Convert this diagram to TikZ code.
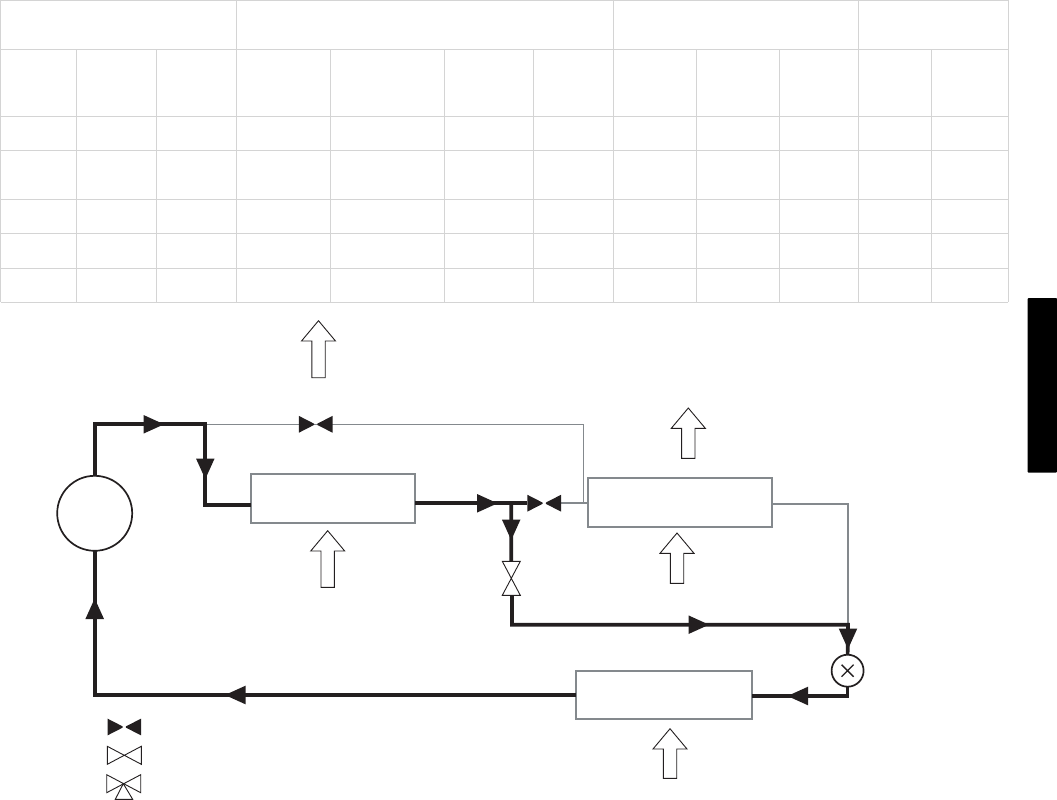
\documentclass[tikz,border=0pt]{standalone}
\definecolor{ink}{HTML}{231F20}
\definecolor{pipegray}{HTML}{84898D}
\definecolor{rulegray}{HTML}{D4D4D4}
\tikzset{
  pipe/.style={draw=ink,line width=3.7pt},
  thinpipe/.style={draw=pipegray,line width=1.4pt},
  unit/.style={draw=pipegray,line width=1.8pt,fill=white,inner sep=0pt,outer sep=0pt},
  round unit/.style={circle,draw=ink,line width=1.7pt,fill=white,inner sep=0pt,outer sep=0pt},
  grid rule/.style={draw=rulegray,line width=0.8pt},
  outline/.style={draw=ink,line width=0.9pt,fill=white,line join=miter},
  head/.pic={\fill[ink] (0.5,0.7) -- (0.5,-0.7) -- (-18.5,-9.3) -- (-18.5,9.3) -- cycle;},
  shut valve/.pic={\fill[ink] (-1.6,0.6) -- (-1.6,-0.6) -- (-16.8,-8.4) -- (-16.8,8.4) -- cycle;
                   \fill[ink] (1.6,0.6) -- (1.6,-0.6) -- (16.8,-8.4) -- (16.8,8.4) -- cycle;},
  open valve/.pic={\draw[outline] (0,0) -- (-17,9) -- (-17,-9) -- cycle;
                   \draw[outline] (0,0) -- (17,9) -- (17,-9) -- cycle;}
}
\newcommand{\airarrow}[4]{% tip x, tip y, bottom y, head base y
  \draw[outline] (#1,#2) -- (#1+17,#4) -- (#1+6.7,#4) -- (#1+6.7,#3)
     -- (#1-6.7,#3) -- (#1-6.7,#4) -- (#1-17,#4) -- cycle;}
\begin{document}
\begin{tikzpicture}[x=1pt,y=-1pt]
\useasboundingbox (0,0) rectangle (1057,800);
% table
\foreach \yy in {0.5,49.3,116.3,150.3,199.3,233.3,268.3,302.3}
  \draw[grid rule] (0.5,\yy) -- (1008.3,\yy);
\foreach \xx in {0.5,236.3,613.4,858.4,1008.3}
  \draw[grid rule] (\xx,0.5) -- (\xx,302.3);
\foreach \xx in {76.4,156.5,330.3,444.5,533.4,696.4,779.4,931.3}
  \draw[grid rule] (\xx,49.3) -- (\xx,302.3);
% side tab
\fill[black,rounded corners=1pt] (1057,298) -- (1027.5,298) -- (1027.5,472.7) -- (1057,472.7) -- cycle;
% air arrows
\airarrow{318.5}{320.7}{377.7}{341}
\airarrow{327.7}{530.7}{587.3}{551}
\airarrow{688.3}{408}{458.3}{428.3}
\airarrow{677}{533}{583.3}{553.3}
\airarrow{670}{728.7}{778.3}{749}
% units
\node[unit,minimum width=163.7pt,minimum height=49.3pt] (cond) at (333.2,498.3) {};
\node[unit,minimum width=183.7pt,minimum height=49pt] (econ) at (680.2,502.8) {};
\node[unit,minimum width=176.6pt,minimum height=48.3pt] (evap) at (664,694.9) {};
\node[round unit,minimum size=75pt] (comp) at (94.7,513.3) {};
\node[round unit,minimum size=32pt] (exv) at (847.6,670.7) {};
\draw[ink,line width=1.3pt] (exv.center) ++(-6,-6) -- ++(12,12) ++(-12,0) -- ++(12,-12);
% junctions
\coordinate (split) at (205.3,424.3);
\coordinate (tee) at (511.2,503.3);
\coordinate (v1) at (315.7,424.3);
\coordinate (v2) at (544.2,503.2);
\coordinate (v3) at (511.3,578.3);
\coordinate (drop) at (848,624.7);
\coordinate (v1r) at (332,424.3);
\coordinate (v2l) at (527,503.3);
\coordinate (v2r) at (561,503.2);
\coordinate (v3t) at (511.3,561.3);
\coordinate (v3b) at (512,595.3);
\coordinate (corner) at (583.3,424.3);
\coordinate (condin) at (250.5,505);
\coordinate (condout) at (415,503.3);
\coordinate (econout) at (772,504);
\coordinate (evapin) at (752.3,696);
\coordinate (evapout) at (575.7,695);
% gray lines
\draw[thinpipe] (split) -- (v1r) -- (corner) -- (corner |- v2r);
\draw[thinpipe,line width=1.9pt] (v2r) -- (econ.west |- v2r);
\draw[thinpipe] (econout) -- (drop |- econout) -- (drop);
% black pipes
\draw[pipe] (comp.north) -- (comp.north |- split) -- (split) -- (split |- condin) -- (condin);
\draw[pipe] (condout) -- (v2l);
\draw[pipe] (tee) -- (v3t);
\draw[pipe] (v3b) -- (v3b |- drop) -- (drop) -- (exv.north);
\draw[pipe] (exv.south) -- (exv.south |- evapin) -- (evapin);
\draw[pipe] (evapout) -- (comp.south |- evapout) -- (comp.south);
% flow heads
\pic at (162,424.3) {head};
\pic[rotate=270] at (205.3,477) {head};
\pic at (495.5,503.3) {head};
\pic[rotate=270] at (511.2,538) {head};
\pic at (707,624.7) {head};
\pic[rotate=270] at (848,647) {head};
\pic[rotate=180] at (789.5,696) {head};
\pic[rotate=180] at (227,695) {head};
\pic[rotate=90] at (94.7,600.5) {head};
% valves
\pic at (v1) {shut valve};
\pic at (v2) {shut valve};
\pic[rotate=90] at (v3) {open valve};
% legend
\pic at (124.3,727) {shut valve};
\pic at (124.3,755.3) {open valve};
\draw[outline] (123.3,783.7) -- (115.3,799.3) -- (132.7,799.3) -- cycle;
\pic at (123.7,783.7) {open valve};
\end{tikzpicture}
\end{document}
